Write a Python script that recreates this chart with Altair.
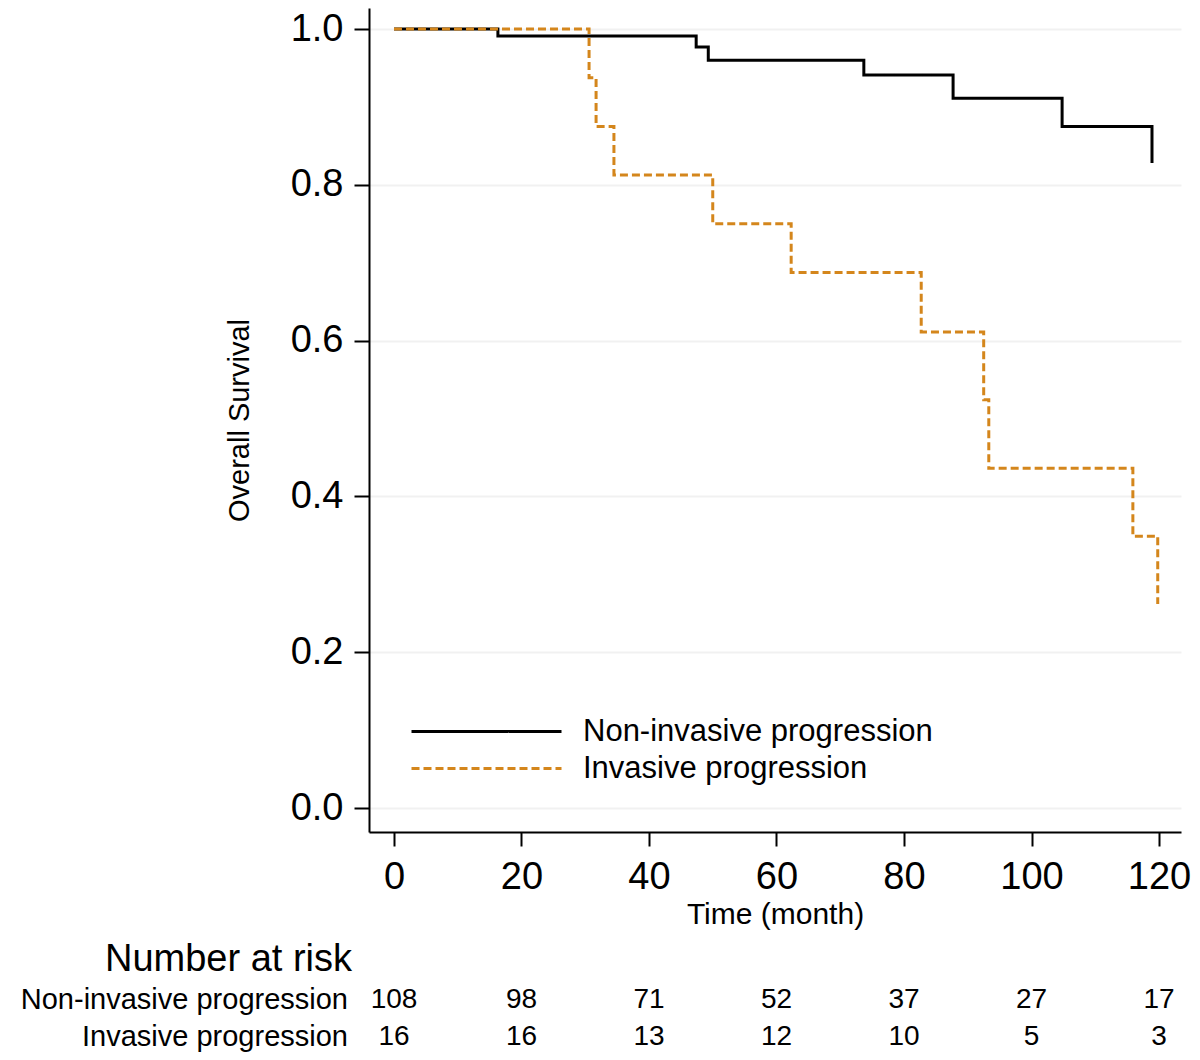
import altair as alt
import pandas as pd

FONT = "Liberation Sans"

groups = ["Non-invasive progression", "Invasive progression"]
line_colors = ["#000000", "#d4861c"]

noninv_time = [0, 16.3, 47.4, 49.3, 73.7, 87.7, 104.8, 118.9]
noninv_surv = [1.0, 0.991, 0.977, 0.960, 0.941, 0.911, 0.875, 0.828]
inv_time = [0, 30.6, 31.7, 34.5, 50.0, 62.3, 82.7, 92.5, 93.3, 115.9, 119.8]
inv_surv = [1.0, 0.9375, 0.875, 0.8125, 0.75, 0.6875, 0.611, 0.524, 0.436, 0.349, 0.262]

risk_times = [0, 20, 40, 60, 80, 100, 120]
noninv_risk = [108, 98, 71, 52, 37, 27, 17]
inv_risk = [16, 16, 13, 12, 10, 5, 3]

x_ticks = [0, 20, 40, 60, 80, 100, 120]
y_ticks = [0.0, 0.2, 0.4, 0.6, 0.8, 1.0]
risk_title = "Number at risk"

curves = pd.DataFrame({
    "time": noninv_time + inv_time,
    "surv": noninv_surv + inv_surv,
    "group": [groups[0]] * len(noninv_time) + [groups[1]] * len(inv_time),
    "idx": list(range(len(noninv_time))) + list(range(len(inv_time))),
})

risk_df = pd.DataFrame({
    "time": risk_times + risk_times,
    "group": [groups[0]] * len(risk_times) + [groups[1]] * len(risk_times),
    "n": noninv_risk + inv_risk,
})
labels_df = pd.DataFrame({"group": groups})
header_df = pd.DataFrame({"t": [risk_title]})

legend_def = dict(
    title=None, orient="none", legendX=101, legendY=707,
    symbolType="M-5,0H5", symbolSize=900, symbolStrokeWidth=3,
    labelFontSize=31, labelFont=FONT, labelColor="black",
    labelOffset=80, padding=0, rowPadding=5, labelLimit=0,
)

x_scale = alt.Scale(domain=[-3.92, 123.45], nice=False, zero=False)
y_scale = alt.Scale(domain=[-0.0308, 1.027], nice=False, zero=False)
row_scale = alt.Scale(type="point", domain=groups, range=[992, 1029], padding=0)

lines = alt.Chart(curves).mark_line(interpolate="step-after", strokeWidth=3).encode(
    x=alt.X("time:Q", scale=x_scale,
            axis=alt.Axis(values=x_ticks, format="d", title="Time (month)", grid=False)),
    y=alt.Y("surv:Q", scale=y_scale,
            axis=alt.Axis(values=y_ticks, format=".1f", title="Overall Survival", grid=True)),
    color=alt.Color("group:N", scale=alt.Scale(domain=groups, range=line_colors),
                    legend=alt.Legend(**legend_def)),
    strokeDash=alt.StrokeDash("group:N", scale=alt.Scale(domain=groups, range=[[1, 0], [8, 4]]),
                              legend=alt.Legend(**legend_def)),
    order="idx:Q",
)

risk = alt.Chart(risk_df).mark_text(fontSize=28, font=FONT, color="black", baseline="middle").encode(
    x=alt.X("time:Q"),
    y=alt.Y("group:N", scale=row_scale, axis=None),
    text="n:Q",
)

rowlab = alt.Chart(labels_df).mark_text(fontSize=29, font=FONT, color="black",
                                        align="right", baseline="middle").encode(
    x=alt.value(-21),
    y=alt.Y("group:N", scale=row_scale, axis=None),
    text="group:N",
)

header = alt.Chart(header_df).mark_text(fontSize=38, font=FONT, color="black",
                                        align="left", baseline="middle").encode(
    x=alt.value(-264),
    y=alt.value(952),
    text="t:N",
)

chart = alt.layer(lines, risk, rowlab, header).resolve_scale(y="independent").properties(
    width=812, height=824,
    autosize=alt.AutoSizeParams(type="none"),
    padding={"left": 361, "top": 0, "right": 11, "bottom": 220},
).configure_view(stroke=None).configure_axis(
    domainColor="black", domainWidth=2, tickColor="black", tickWidth=2,
    labelColor="black", titleColor="black", labelFont=FONT, titleFont=FONT,
    titleFontWeight="normal", gridColor="#f1f1f1", gridWidth=2,
).configure_axisX(
    labelFontSize=38, labelPadding=12, tickSize=14, titleFontSize=30, titlePadding=3,
).configure_axisY(
    labelFontSize=38, labelPadding=11, tickSize=15, titleFontSize=29, titlePadding=36,
)

chart.save("out.html", embed_options={"renderer": "svg", "actions": False})
